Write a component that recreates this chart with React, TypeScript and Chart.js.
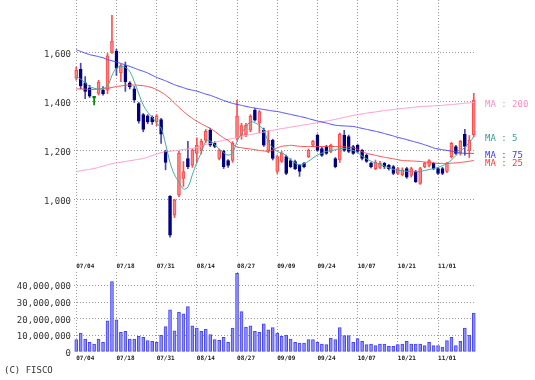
import React, { useEffect, useRef } from 'react';
import { Chart, registerables } from 'chart.js';
Chart.register(...registerables);

const dates = [
  '07/04','07/05','07/08','07/09','07/10','07/11','07/12','07/16','07/17','07/18','07/19','07/22','07/23','07/24','07/25','07/26','07/29','07/30','07/31',
  '08/01','08/02','08/05','08/06','08/07','08/08','08/09','08/13','08/14','08/15','08/16','08/19','08/20','08/21','08/22','08/23','08/26','08/27','08/28','08/29','08/30',
  '09/02','09/03','09/04','09/05','09/06','09/09','09/10','09/11','09/12','09/13','09/17','09/18','09/19','09/20','09/24','09/25','09/26','09/27','09/30',
  '10/01','10/02','10/03','10/04','10/07','10/08','10/09','10/10','10/11','10/15','10/16','10/17','10/18','10/21','10/22','10/23','10/24','10/25','10/28','10/29','10/30','10/31',
  '11/01','11/05','11/06','11/07','11/08','11/11','11/12','11/13','11/14',
];
const tickDates = ['07/04','07/18','07/31','08/14','08/27','09/09','09/24','10/07','10/21','11/01'];

const opens = [1494,1530,1475,1455,1412,1432,1445,1445,1600,1605,1515,1545,1475,1450,1390,1345,1340,1335,1315,1325,
  1195,1012,935,1016,1085,1166,1139,1187,1200,1240,1281,1228,1166,1195,1158,1158,1250,1260,1262,1282,
  1364,1310,1281,1199,1240,1113,1154,1174,1158,1154,1138,1146,1174,1220,1261,1207,1215,1195,1166,1160,
  1261,1256,1215,1220,1199,1179,1146,1125,1130,1146,1138,1133,1105,1100,1125,1097,1113,1064,1133,1138,
  1146,1125,1125,1113,1174,1215,1187,1265,1199,1262];
const highs = [1540,1555,1500,1465,1416,1485,1460,1595,1750,1612,1550,1560,1480,1460,1395,1350,1345,1340,1345,1330,
  1200,1015,1000,1195,1154,1236,1205,1250,1245,1285,1290,1235,1205,1200,1162,1235,1405,1310,1310,1345,
  1370,1362,1290,1280,1245,1180,1195,1180,1165,1160,1142,1150,1205,1240,1266,1212,1220,1225,1170,1270,
  1281,1262,1220,1225,1204,1184,1150,1160,1155,1150,1142,1138,1130,1128,1130,1130,1118,1130,1150,1162,
  1150,1130,1130,1150,1232,1220,1240,1285,1260,1432];
const lows = [1486,1450,1410,1415,1385,1425,1425,1430,1595,1505,1480,1440,1450,1395,1310,1275,1308,1305,1300,1228,
  1120,845,925,1010,1052,1125,1130,1150,1185,1230,1215,1210,1160,1125,1130,1150,1240,1245,1255,1275,
  1318,1270,1215,1190,1160,1105,1150,1100,1128,1120,1093,1128,1170,1215,1195,1175,1183,1190,1128,1150,
  1195,1190,1183,1190,1160,1150,1128,1120,1125,1125,1118,1100,1100,1095,1085,1090,1068,1060,1128,1132,
  1120,1100,1100,1108,1168,1183,1180,1180,1170,1255];
const closes = [1526,1462,1440,1420,1412,1478,1430,1585,1645,1535,1545,1480,1458,1405,1318,1285,1315,1315,1340,1265,
  1150,853,996,1187,1113,1133,1200,1220,1236,1277,1220,1215,1199,1133,1138,1228,1338,1300,1302,1338,
  1323,1358,1220,1240,1166,1174,1187,1105,1133,1125,1113,1133,1199,1236,1199,1179,1187,1220,1133,1265,
  1199,1195,1187,1195,1166,1154,1133,1150,1146,1133,1125,1105,1125,1120,1090,1125,1072,1125,1146,1158,
  1125,1105,1105,1146,1228,1187,1236,1215,1240,1405];

const ma5 = [1502,1490,1475,1460,1453,1450,1452,1462,1505,1535,1542,1538,1520,1480,1430,1385,1355,1335,1310,1290,
  1225,1150,1100,1070,1042,1050,1100,1150,1190,1235,1238,1222,1205,1190,1180,1190,1235,1268,1295,1315,
  1312,1300,1280,1235,1210,1195,1188,1178,1160,1148,1140,1145,1155,1168,1180,1188,1195,1198,1202,1206,
  1207,1203,1199,1190,1176,1165,1155,1148,1142,1135,1128,1122,1118,1116,1114,1113,1112,1113,1117,1121,
  1125,1130,1137,1146,1160,1178,1195,1212,1230,1256];
const ma25 = [1450,1450,1449,1448,1448,1449,1450,1452,1456,1460,1462,1465,1466,1466,1465,1463,1460,1455,1447,1437,
  1425,1410,1392,1375,1358,1343,1330,1318,1308,1298,1289,1277,1263,1250,1240,1225,1213,1210,1207,1205,
  1202,1199,1197,1195,1200,1210,1216,1218,1220,1218,1216,1215,1215,1215,1215,1215,1215,1215,1215,1215,
  1214,1212,1210,1203,1194,1187,1183,1179,1175,1171,1168,1165,1161,1158,1157,1156,1155,1154,1152,1150,
  1148,1146,1146,1146,1147,1148,1150,1152,1155,1158];
const ma75 = [1610,1603,1596,1590,1586,1582,1577,1570,1565,1560,1554,1548,1542,1535,1528,1522,1515,1506,1497,1490,
  1483,1475,1467,1461,1455,1449,1445,1441,1435,1429,1424,1417,1410,1403,1397,1391,1387,1383,1379,1375,
  1372,1369,1366,1363,1360,1358,1354,1350,1346,1342,1338,1334,1329,1324,1319,1315,1311,1306,1302,1300,
  1299,1298,1297,1293,1289,1285,1281,1277,1273,1268,1263,1258,1252,1248,1243,1238,1233,1228,1222,1216,
  1209,1205,1202,1199,1196,1193,1189,1187,1187,1187];
const ma200 = [1113,1116,1119,1122,1125,1130,1135,1140,1145,1148,1151,1154,1157,1160,1163,1166,1172,1178,1184,1190,
  1194,1196,1198,1200,1203,1205,1207,1211,1217,1223,1228,1232,1236,1240,1244,1248,1252,1256,1260,1264,
  1267,1271,1274,1278,1281,1285,1288,1291,1294,1297,1300,1303,1306,1309,1312,1316,1319,1322,1326,1330,
  1334,1338,1342,1345,1348,1351,1354,1356,1359,1362,1364,1366,1368,1370,1372,1374,1376,1378,1379,1380,
  1381,1382,1383,1385,1386,1388,1390,1392,1393,1395];

// volume in millions of shares
const volumeM = [7.4,11.4,7.8,5.8,4.8,7.8,5.8,18.7,42.2,19.3,11.8,12.4,7.8,7.8,9.4,8.8,6.8,6.4,5.8,10.0,
  15.3,25.3,12.7,23.9,22.9,27.3,15.7,14.3,12.4,13.7,10.4,7.4,7.0,8.8,5.8,14.3,47.2,24.3,14.9,15.7,
  12.4,11.8,16.9,13.3,14.7,11.4,9.4,10.2,7.8,5.8,5.4,5.4,7.4,7.4,5.8,4.8,4.4,8.4,7.4,14.7,
  9.8,9.8,5.8,8.0,6.4,4.4,4.8,3.8,4.8,4.8,3.4,3.4,4.4,4.8,6.4,4.8,4.8,4.8,3.8,5.8,
  3.8,3.8,3.0,6.8,8.8,3.8,6.4,14.3,10.2,23.3];

const priceTicks = [1000, 1200, 1400, 1600];
const volumeTicks = [0, 10000000, 20000000, 30000000, 40000000];

const maSeries = [
  { label: 'MA : 5', data: ma5, color: '#45a8a0', text: '#3a9c94', tension: 0.4 },
  { label: 'MA : 25', data: ma25, color: '#ff4a4a', text: '#ff3a3a', tension: 0.2 },
  { label: 'MA : 75', data: ma75, color: '#4a4aff', text: '#3a3aff', tension: 0.2 },
  { label: 'MA : 200', data: ma200, color: '#ff99cc', text: '#ff8cc6', tension: 0.2 },
];

const MONO = '"DejaVu Sans Mono", "Liberation Mono", monospace';
const GRID = '#9a9a9a';

const filterDateTicks = (s: any) => {
  s.ticks = s.ticks.filter((t: any) => tickDates.includes(dates[t.value]));
};

const maLabelPlugin = {
  id: 'maLabels',
  afterDatasetsDraw(chart: any) {
    const ys = chart.scales.y;
    const ctx = chart.ctx;
    const items = maSeries.map((s) => ({
      text: s.label,
      color: s.text,
      y: ys.getPixelForValue(s.data[s.data.length - 1]) + 2.5,
    }));
    items.sort((a, b) => a.y - b.y);
    for (let i = 1; i < items.length; i++) {
      if (items[i].y - items[i - 1].y < 8) items[i].y = items[i - 1].y + 8;
    }
    ctx.save();
    ctx.font = `9px ${MONO}`;
    ctx.textBaseline = 'middle';
    ctx.textAlign = 'left';
    const x = chart.chartArea.right + 9;
    items.forEach((it) => {
      ctx.fillStyle = it.color;
      ctx.fillText(it.text, x, it.y);
    });
    ctx.restore();
  },
};

export default function App() {
  const priceRef = useRef<HTMLCanvasElement>(null);
  const volRef = useRef<HTMLCanvasElement>(null);

  useEffect(() => {
    const up = closes.map((c, i) => c > opens[i]);
    const flat = closes.map((c, i) => c === opens[i]);
    const bodyFill = closes.map((_, i) => (flat[i] ? '#008000' : up[i] ? '#ff8585' : '#000080'));
    const bodyBorder = closes.map((_, i) => (flat[i] ? '#008000' : up[i] ? '#ff4848' : '#000080'));
    const wickColor = closes.map((_, i) => (flat[i] ? '#008000' : up[i] ? '#ff5050' : '#4848b0'));

    const price = new Chart(priceRef.current!, {
      type: 'bar',
      data: {
        labels: dates,
        datasets: [
          ...maSeries.map((s) => ({
            type: 'line' as const,
            label: s.label,
            data: s.data,
            borderColor: s.color,
            borderWidth: 1,
            pointRadius: 0,
            tension: s.tension,
            order: 0,
          })),
          {
            type: 'bar' as const,
            label: 'body',
            data: opens.map((o, i) => [o, closes[i]]),
            backgroundColor: bodyFill,
            borderColor: bodyBorder,
            borderWidth: 1,
            borderSkipped: false,
            barThickness: 3,
            minBarLength: 2,
            grouped: false,
            order: 1,
          } as any,
          {
            type: 'bar' as const,
            label: 'wick',
            data: lows.map((l, i) => [l, highs[i]]),
            backgroundColor: wickColor,
            barThickness: 1,
            grouped: false,
            order: 2,
          } as any,
        ],
      },
      options: {
        responsive: false,
        animation: false,
        layout: { padding: { left: 0, right: 59, top: 0, bottom: 2 } },
        plugins: { legend: { display: false }, tooltip: { enabled: false } },
        scales: {
          x: {
            type: 'category',
            offset: true,
            afterBuildTicks: filterDateTicks,
            afterFit: (s: any) => { s.height = 0; s.paddingLeft = 0; s.paddingRight = 0; },
            ticks: { display: false, autoSkip: false },
            grid: { offset: false, drawTicks: false, color: GRID },
            border: { display: false, dash: [1, 2] },
          },
          y: {
            min: 760,
            max: 1813,
            afterBuildTicks: (s: any) => { s.ticks = priceTicks.map((v) => ({ value: v })); },
            afterFit: (s: any) => { s.width = 74; s.paddingTop = 0; s.paddingBottom = 0; },
            ticks: {
              font: { family: MONO, size: 9 },
              color: '#333',
              padding: 3,
              labelOffset: 2,
              callback: (v: any) => Number(v).toLocaleString('en-US'),
            },
            grid: { drawTicks: false, color: GRID },
            border: { display: false, dash: [1, 2] },
          },
        },
      } as any,
      plugins: [maLabelPlugin],
    });

    const dateTickOpts = (pad: number) => ({
      autoSkip: false,
      maxRotation: 0,
      minRotation: 0,
      align: 'start',
      padding: pad,
      font: { family: MONO, size: 6, weight: 'bold' },
      color: '#222',
    });

    const vol = new Chart(volRef.current!, {
      type: 'bar',
      data: {
        labels: dates,
        datasets: [
          {
            label: 'volume',
            data: volumeM.map((v) => v * 1000000),
            backgroundColor: '#8e8eff',
            borderColor: '#4646f0',
            borderWidth: 1,
            borderSkipped: false,
            barThickness: 3,
          },
        ],
      },
      options: {
        responsive: false,
        animation: false,
        layout: { padding: { left: 0, right: 59, top: 0, bottom: 0 } },
        plugins: { legend: { display: false }, tooltip: { enabled: false } },
        scales: {
          x: {
            type: 'category',
            position: 'bottom',
            offset: true,
            afterBuildTicks: filterDateTicks,
            afterFit: (s: any) => { s.height = 14; s.paddingLeft = 0; s.paddingRight = 0; },
            ticks: dateTickOpts(3),
            grid: { offset: false, drawTicks: false, color: GRID },
            border: { display: false, dash: [1, 2] },
          },
          xTop: {
            type: 'category',
            position: 'top',
            offset: true,
            afterBuildTicks: filterDateTicks,
            afterFit: (s: any) => { s.height = 12; s.paddingLeft = 0; s.paddingRight = 0; },
            ticks: dateTickOpts(2),
            grid: { display: false, drawTicks: false },
            border: { display: false },
          },
          y: {
            min: 0,
            max: 48000000,
            afterBuildTicks: (s: any) => { s.ticks = volumeTicks.map((v) => ({ value: v })); },
            afterFit: (s: any) => { s.width = 74; s.paddingTop = 0; s.paddingBottom = 0; },
            ticks: {
              font: { family: MONO, size: 9 },
              color: '#333',
              padding: 3,
              labelOffset: 1.5,
              callback: (v: any) => Number(v).toLocaleString('en-US'),
            },
            grid: {
              drawTicks: false,
              color: (c: any) => (c.tick && c.tick.value === 0 ? 'rgba(0,0,0,0)' : GRID),
            },
            border: { display: false, dash: [1, 2] },
          },
        },
      } as any,
    });

    return () => {
      price.destroy();
      vol.destroy();
    };
  }, []);

  return (
    <div style={{ position: 'absolute', left: 0, top: 0, width: 535, height: 380, background: '#fff' }}>
      <canvas ref={priceRef} width={535} height={260} style={{ position: 'absolute', left: 0, top: 0 }} />
      <canvas ref={volRef} width={535} height={106} style={{ position: 'absolute', left: 0, top: 260 }} />
      <div
        style={{
          position: 'absolute',
          left: 4,
          top: 364,
          font: `9px ${MONO}`,
          color: '#333',
          lineHeight: '12px',
          whiteSpace: 'nowrap',
        }}
      >
        (C) FISCO
      </div>
    </div>
  );
}
